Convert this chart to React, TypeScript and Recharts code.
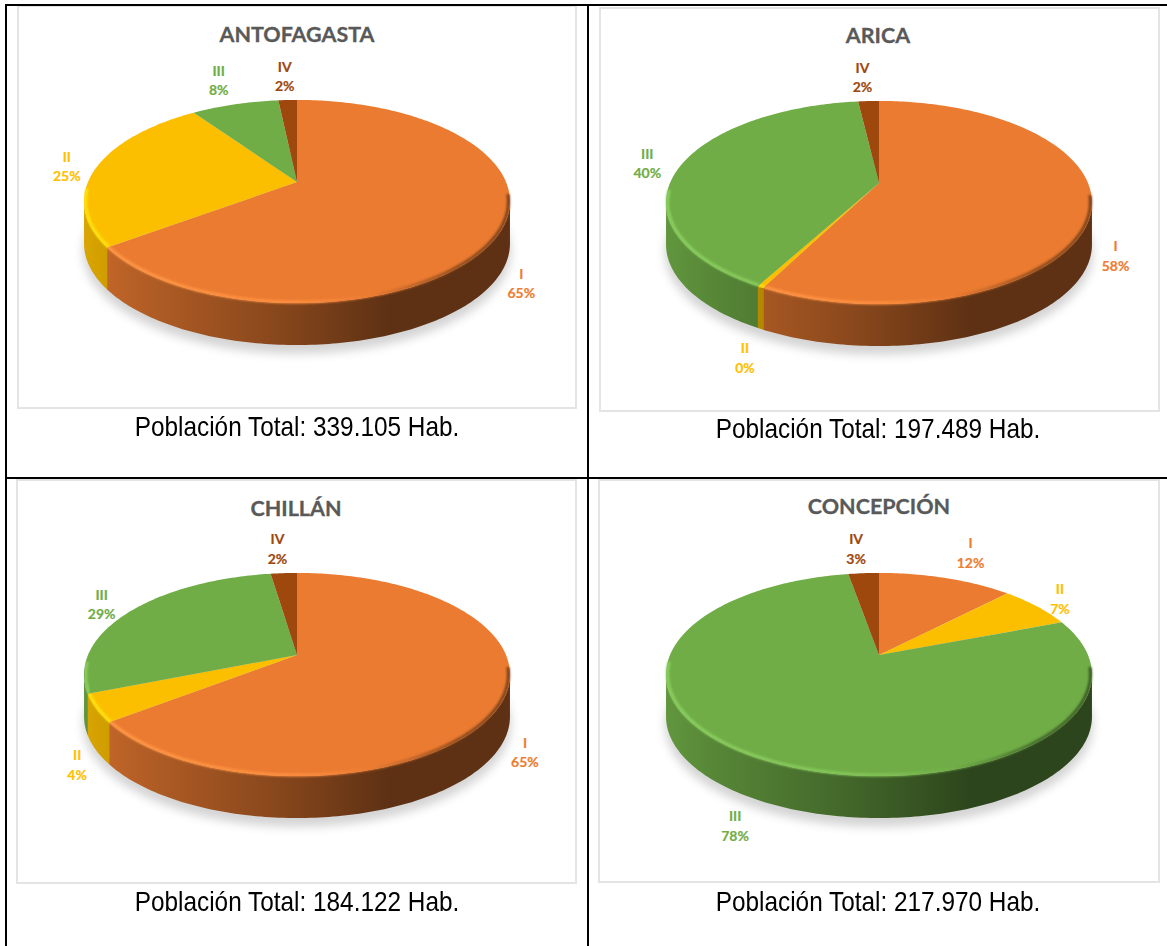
import React from "react";
import { PieChart, Pie, Cell } from "recharts";

const categories = ["I", "II", "III", "IV"];
const sliceColors = ["#eb7b31", "#fbbf00", "#70ad47", "#9e480e"];
const labelColors = ["#ed7d31", "#ffc000", "#70ad47", "#9e480e"];

const antofagastaValues = [64.9, 25.4, 8, 1.7];
const aricaValues = [57.6, 0.4, 40.1, 1.9];
const chillanValues = [64.6, 4.4, 28.6, 2.4];
const concepcionValues = [12.3, 6.9, 78, 2.8];

const panelTitles = ["ANTOFAGASTA", "ARICA", "CHILLÁN", "CONCEPCIÓN"];
const panelPopulations = ["339.105", "197.489", "184.122", "217.970"];
const panelValues = [antofagastaValues, aricaValues, chillanValues, concepcionValues];

// page layout, kept apart from the data
const frames = [
  { left: 17, top: 5, width: 560, height: 404, cx: 280, cy: 177, titleX: 297, titleY: 34, capX: 297, capY: 427 },
  { left: 599, top: 7, width: 561, height: 405, cx: 280, cy: 176, titleX: 878, titleY: 35, capX: 878, capY: 429 },
  { left: 16, top: 479, width: 561, height: 405, cx: 281, cy: 176, titleX: 296, titleY: 508, capX: 297, capY: 902 },
  { left: 598, top: 479, width: 562, height: 404, cx: 281, cy: 176, titleX: 879, titleY: 506, capX: 878, capY: 902 },
];
// small label shifts away from the computed ring position: [dx, dy] per category
const labelShifts = [
  [[-7, 5], [-7, 2], [-10, -16], [-2, -15]],
  [[-3, 4], [2, 14], [-11, 1], [-5, -15]],
  [[-4, 2], [8, 8], [-12, -1], [-5, -16]],
  [[18, -17], [6, -2], [-2, 12], [-6, -16]],
];

const RADIUS = 209;
const TILT = 0.468;
const PERSPECTIVE = 0.192;
const DEPTH = 42;
const FRONT_FROM = 101;
const FRONT_TO = 259;

// maps a clockwise-from-top angle onto the tilted disc
function project(cx: number, cy: number, r: number, theta: number, k = 1) {
  const rad = (theta * Math.PI) / 180;
  const u = k * Math.sin(rad);
  const v = -k * Math.cos(rad);
  const den = 1 - PERSPECTIVE * v;
  return { x: cx + (r * u) / den, y: cy + (r * TILT * v) / den, v };
}

function arc(cx: number, cy: number, r: number, from: number, to: number, k = 1) {
  const pts = [];
  for (let t = from; t < to; t += 1) pts.push(project(cx, cy, r, t, k));
  pts.push(project(cx, cy, r, to, k));
  return pts;
}

const toPath = (pts: { x: number; y: number }[]) =>
  pts.map((p, i) => `${i ? "L" : "M"}${p.x.toFixed(2)} ${p.y.toFixed(2)}`).join(" ");

function shade(hex: string, f: number, add = 0) {
  const n = parseInt(hex.slice(1), 16);
  const c = [(n >> 16) & 255, (n >> 8) & 255, n & 255].map((x) =>
    Math.min(255, Math.round(x * f + add))
  );
  return `rgb(${c[0]},${c[1]},${c[2]})`;
}

function DiscSlice(props: any) {
  const { cx, cy, outerRadius, startAngle, endAngle, fill, idPrefix, index } = props;
  const from = 90 - startAngle;
  const to = 90 - endAngle;
  const rim = arc(cx, cy, outerRadius, from, to);
  const top = `M${cx} ${cy} ${toPath(rim).replace("M", "L")} Z`;

  const wallFrom = Math.max(from, FRONT_FROM);
  const wallTo = Math.min(to, FRONT_TO);
  const hasWall = wallTo > wallFrom;
  const wallId = `${idPrefix}-wall-${index}`;
  const bevelId = `${idPrefix}-bevel-${index}`;
  const x0 = cx - outerRadius;
  const x1 = cx + outerRadius;

  let wall = "";
  let bevel = "";
  const bevelFrom = Math.max(from, 97);
  const bevelTo = Math.min(to, 266);
  if (hasWall) {
    const upper = arc(cx, cy, outerRadius, wallFrom, wallTo);
    const lower = upper.map((p) => ({ x: p.x, y: p.y + DEPTH })).reverse();
    wall = `${toPath(upper)} ${toPath(lower).replace("M", "L")} Z`;
    bevel = toPath(arc(cx, cy, outerRadius, bevelFrom, bevelTo, 0.993));
  }

  return (
    <g>
      {hasWall && (
        <>
          <defs>
            <linearGradient id={wallId} gradientUnits="userSpaceOnUse" x1={x0} x2={x1} y1={0} y2={0}>
              <stop offset="0" stopColor={shade(fill, 0.86)} />
              <stop offset="0.1" stopColor={shade(fill, 0.78)} />
              <stop offset="0.45" stopColor={shade(fill, 0.58)} />
              <stop offset="0.72" stopColor={shade(fill, 0.4)} />
              <stop offset="1" stopColor={shade(fill, 0.4)} />
            </linearGradient>
            <linearGradient id={bevelId} gradientUnits="userSpaceOnUse" x1={x0} x2={x1} y1={0} y2={0}>
              <stop offset="0" stopColor={shade(fill, 1.12, 15)} />
              <stop offset="0.5" stopColor={shade(fill, 1.08, 10)} />
              <stop offset="0.68" stopColor={fill} />
              <stop offset="0.88" stopColor={shade(fill, 0.6)} />
              <stop offset="1" stopColor={shade(fill, 0.5)} />
            </linearGradient>
          </defs>
          <path d={wall} fill={`url(#${wallId})`} />
        </>
      )}
      <path d={top} fill={fill} />
      {hasWall && (
        <path
          d={bevel}
          fill="none"
          stroke={`url(#${bevelId})`}
          strokeWidth={3}
          filter={`url(#${idPrefix}-soft)`}
        />
      )}
    </g>
  );
}

function DiscShadow(props: any) {
  const { cx, cy, outerRadius, idPrefix } = props;
  const pts = arc(cx, cy, outerRadius, 0, 360, 1.005).map((p) => ({ x: p.x, y: p.y + DEPTH + 8 }));
  return (
    <g>
      <defs>
        <filter id={`${idPrefix}-blur`} x="-10%" y="-20%" width="120%" height="140%">
          <feGaussianBlur stdDeviation={5} />
        </filter>
        <filter id={`${idPrefix}-soft`} x="-5%" y="-20%" width="110%" height="140%">
          <feGaussianBlur stdDeviation={1} />
        </filter>
      </defs>
      <path d={`${toPath(pts)} Z`} fill="#000" fillOpacity={0.17} filter={`url(#${idPrefix}-blur)`} />
    </g>
  );
}

function SliceLabel(props: any) {
  const { cx, cy, midAngle, percent, index, shifts } = props;
  const p = project(cx, cy, RADIUS, 90 - midAngle, 1.12);
  const x = p.x + shifts[index][0];
  const y = p.y + (p.v > 0.19 ? DEPTH : 0) + shifts[index][1];
  return (
    <text
      x={x}
      y={y}
      textAnchor="middle"
      fontFamily="Lato, sans-serif"
      fontWeight={700}
      fontSize={14}
      stroke={labelColors[index]}
      strokeWidth={0.2}
      fill={labelColors[index]}
    >
      <tspan x={x} dy={-5}>{categories[index]}</tspan>
      <tspan x={x} dy={19.5}>{Math.round(percent * 100)}%</tspan>
    </text>
  );
}

function PiePanel({ panel }: { panel: number }) {
  const f = frames[panel];
  const idPrefix = `panel${panel}`;
  const rows = categories.map((name, i) => ({ name, value: panelValues[panel][i] }));
  return (
    <>
      <div
        style={{
          position: "absolute",
          left: f.left,
          top: f.top,
          width: f.width,
          height: f.height,
          boxSizing: "border-box",
          border: "2px solid #e4e4e4",
          background: "#fff",
        }}
      />
      <div style={{ position: "absolute", left: f.left, top: f.top }}>
        <PieChart width={f.width} height={f.height} margin={{ top: 0, right: 0, bottom: 0, left: 0 }}>
          <Pie
            data={[{ value: 1 }]}
            dataKey="value"
            cx={f.cx}
            cy={f.cy}
            outerRadius={RADIUS}
            startAngle={90}
            endAngle={-270}
            stroke="none"
            isAnimationActive={false}
            shape={(p: any) => <DiscShadow {...p} idPrefix={idPrefix} />}
          />
          <Pie
            data={rows}
            dataKey="value"
            nameKey="name"
            cx={f.cx}
            cy={f.cy}
            outerRadius={RADIUS}
            startAngle={90}
            endAngle={-270}
            stroke="none"
            isAnimationActive={false}
            labelLine={false}
            label={(p: any) => <SliceLabel {...p} shifts={labelShifts[panel]} />}
            shape={(p: any) => <DiscSlice {...p} idPrefix={idPrefix} />}
          >
            {rows.map((row, i) => (
              <Cell key={row.name} fill={sliceColors[i]} />
            ))}
          </Pie>
        </PieChart>
      </div>
      <div
        style={{
          position: "absolute",
          left: f.titleX - 200,
          top: f.titleY - 15,
          width: 400,
          height: 30,
          lineHeight: "30px",
          textAlign: "center",
          fontFamily: "Lato, sans-serif",
          fontWeight: 700,
          fontSize: 21.5,
          color: "#595959",
          WebkitTextStroke: "0.3px #595959",
        }}
      >
        {panelTitles[panel]}
      </div>
      <div
        style={{
          position: "absolute",
          left: f.capX - 250,
          top: f.capY - 20,
          width: 500,
          height: 40,
          lineHeight: "40px",
          textAlign: "center",
          fontFamily: "'Liberation Sans', Arial, sans-serif",
          fontSize: 28,
          color: "#000",
          transform: "scaleX(0.87)",
        }}
      >
        Población Total: {panelPopulations[panel]} Hab.
      </div>
    </>
  );
}

export default function App() {
  const line = (left: number, top: number, width: number, height: number) => (
    <div style={{ position: "absolute", left, top, width, height, background: "#000" }} />
  );
  return (
    <div
      style={{
        position: "absolute",
        left: 0,
        top: 0,
        width: 1167,
        height: 946,
        overflow: "hidden",
        background: "#fff",
      }}
    >
      {panelTitles.map((_, i) => (
        <PiePanel key={i} panel={i} />
      ))}
      {line(5, 4, 1162, 2)}
      {line(5, 4, 2, 942)}
      {line(587, 4, 2, 942)}
      {line(5, 477, 1162, 2)}
    </div>
  );
}
